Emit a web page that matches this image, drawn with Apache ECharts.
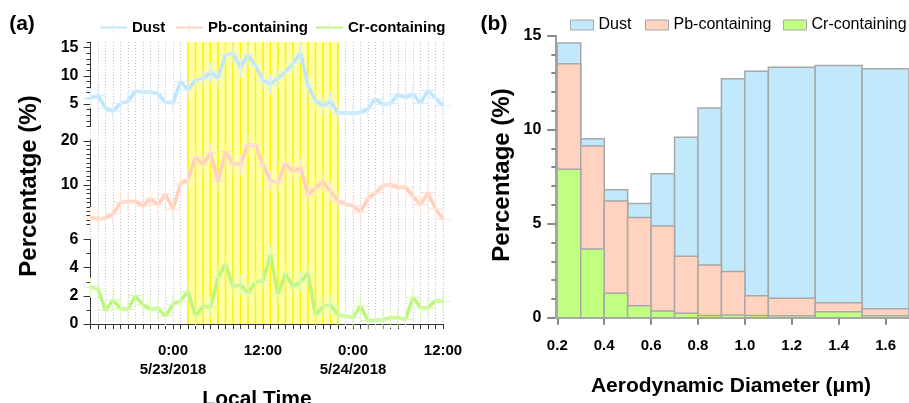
<!DOCTYPE html>
<html>
<head>
<meta charset="utf-8">
<script src="https://cdn.jsdelivr.net/npm/echarts@6/dist/echarts.min.js"></script>
<style>html,body{margin:0;padding:0;background:#fff;}#c{width:909px;height:403px;}</style>
</head>
<body>
<div id="c"></div>
<script>
// ---------- Panel (a): hourly time series, hours relative to 5/23/2018 0:00 ----------
const timeStartHour = -11;            // first sample: 5/22/2018 13:00
const timeEndHour = 36;               // 5/24/2018 12:00
const shadeStartHour = 2;             // highlighted period
const shadeEndHour = 22;
const xTickValues = [0, 12, 24, 36];
const xTickLabels = ['0:00\n5/23/2018', '12:00', '0:00\n5/24/2018', '12:00'];

const dustTS = [6.0,6.5,4.3,3.7,5.1,5.5,7.3,7.1,7.2,6.8,5.3,
  5.2,9.0,7.5,9.2,9.5,10.6,9.6,13.7,14.0,11.5,13.7,11.8,9.2,8.5,9.6,10.7,12.2,14.0,8.3,5.6,4.6,5.5,3.4,3.4,
  3.4,3.4,4.2,5.9,4.9,5.1,6.7,6.1,6.8,5.1,7.4,6.0,4.7];
const pbTS = [2.7,2.2,2.5,3.4,6.0,6.2,6.2,5.2,6.9,5.5,7.9,
  4.5,10.2,11.2,16.4,14.6,17.3,10.8,17.6,14.8,14.6,19.2,18.9,14.5,11.0,10.6,14.9,13.0,14.0,7.7,9.3,10.7,8.5,6.4,5.6,
  5.2,3.8,7.0,8.2,9.8,10.1,9.4,9.5,7.4,5.5,8.2,4.6,2.2];
const crTS = [2.6,2.5,0.95,1.7,1.1,1.05,2.0,1.35,1.05,1.1,0.56,
  1.4,1.65,2.3,0.58,1.25,1.2,3.3,4.25,2.65,2.8,2.2,2.95,3.1,4.9,2.1,3.6,2.65,3.0,3.6,0.6,1.25,1.35,0.64,0.55,
  0.47,1.28,0.24,0.26,0.3,0.45,0.44,0.33,1.9,1.15,1.15,1.65,1.6];

const dustRange = [1, 16], dustTicks = [5, 10, 15];
const pbRange = [1, 20.2], pbTicks = [10, 20];
const crRange = [0, 6], crTicks = [0, 2, 4, 6];

// ---------- Panel (b): size distribution ----------
const sizeEdges = [0.2,0.3,0.4,0.5,0.6,0.7,0.8,0.9,1.0,1.1,1.3,1.5,1.7];
const dustSize = [14.6,9.52,6.8,6.07,7.66,9.6,11.15,12.7,13.1,13.32,13.41,13.24];
const pbSize   = [13.5,9.13,6.2,5.33,4.88,3.27,2.8,2.46,1.17,1.03,0.8,0.48];
const crSize   = [7.9,3.65,1.3,0.64,0.36,0.23,0.12,0.15,0.12,0.1,0.32,0.1];

// ---------- build ----------
const FONT = "'Liberation Sans', Arial, Helvetica, sans-serif";
const hours = dustTS.map((_, i) => timeStartHour + i);
const ints = (a, b) => { const r = []; for (let v = Math.ceil(a); v <= b; v++) r.push(v); return r; };

const chart = echarts.init(document.getElementById('c'), null, {renderer: 'canvas', width: 909, height: 403});

const PX = {left: 90.5, width: 352.5};
const grids = [
  {left: PX.left, width: PX.width, top: 42, height: 282},      // overlay (shading + grid lines)
  {left: PX.left, width: PX.width, top: 42, height: 84.5},     // dust
  {left: PX.left, width: PX.width, top: 140, height: 84.5},    // pb
  {left: PX.left, width: PX.width, top: 239.5, height: 84.5},  // cr
  {left: 557.3, width: 361.5, top: 35.6, height: 282.1}        // size distribution
];

const axisCol = '#333';
function hiddenTimeX(gi) {
  return {type: 'value', gridIndex: gi, min: timeStartHour, max: timeEndHour, interval: 1, show: false};
}
function panelY(gi, range, major) {
  return [
    {type: 'value', gridIndex: gi, position: 'left', min: range[0], max: range[1],
     axisLine: {show: true, onZero: false, lineStyle: {color: axisCol, width: 1}},
     axisTick: {show: true, customValues: ints(range[0], range[1]), length: 4, lineStyle: {color: axisCol}},
     axisLabel: {show: true, customValues: major, margin: 12, fontSize: 16, fontWeight: 'bold', color: '#000', fontFamily: FONT},
     splitLine: {show: false}},
    {type: 'value', gridIndex: gi, position: 'left', min: range[0], max: range[1],
     axisLine: {show: false, onZero: false},
     axisTick: {show: true, customValues: major, length: 7, lineStyle: {color: axisCol}},
     axisLabel: {show: false}, splitLine: {show: false}}
  ];
}

const xAxes = [
  {type: 'value', gridIndex: 0, min: timeStartHour, max: timeEndHour, interval: 1,
   axisLine: {show: false, onZero: false}, axisTick: {show: false}, axisLabel: {show: false},
   splitLine: {show: true, lineStyle: {color: '#c4c4c4', type: [1, 2], width: 1}}},
  hiddenTimeX(1), hiddenTimeX(2),
  {type: 'value', gridIndex: 3, min: timeStartHour, max: timeEndHour, interval: 1,
   axisLine: {show: true, onZero: false, lineStyle: {color: axisCol, width: 1}},
   axisTick: {show: true, length: 5, lineStyle: {color: axisCol}},
   axisLabel: {show: true, customValues: xTickValues, margin: 17, fontSize: 15, lineHeight: 19,
     fontWeight: 'bold', color: '#000', fontFamily: FONT,
     formatter: v => { const i = xTickValues.indexOf(v); return i >= 0 ? xTickLabels[i] : ''; }},
   splitLine: {show: false}},
  {type: 'value', gridIndex: 4, min: 0.2, max: 1.7, interval: 0.2,
   axisLine: {show: true, onZero: false, lineStyle: {color: '#808080', width: 1.5}},
   axisTick: {show: true, length: 7, lineStyle: {color: '#606060', width: 1.5}},
   axisLabel: {margin: 21, fontSize: 15, fontWeight: 'bold', color: '#000', fontFamily: FONT,
     showMaxLabel: false, formatter: v => v.toFixed(1)},
   splitLine: {show: false}}
];

const yAxes = [
  {type: 'value', gridIndex: 0, min: 0, max: 1, show: false},
  ...panelY(1, dustRange, dustTicks),
  ...panelY(2, pbRange, pbTicks),
  ...panelY(3, crRange, crTicks),
  {type: 'value', gridIndex: 4, min: 0, max: 15, interval: 5, offset: 2,
   axisLine: {show: true, onZero: false, lineStyle: {color: '#808080', width: 1.5}},
   axisTick: {show: true, length: 8, lineStyle: {color: '#606060', width: 1.5}},
   minorTick: {show: true, splitNumber: 5, length: 4, lineStyle: {color: '#606060', width: 1.5}},
   axisLabel: {margin: 14, fontSize: 16, fontWeight: 'bold', color: '#000', fontFamily: FONT},
   splitLine: {show: false}, minorSplitLine: {show: false}}
];

const crossSym = 'path://M0,9.5H15V10.5H0Z M7,0H8V20H7Z';
function tsSeries(name, vals, xi, yi, lineCol, errCol) {
  return {
    type: 'line', name, xAxisIndex: xi, yAxisIndex: yi, z: 5,
    data: vals.map((v, i) => [hours[i], v]),
    symbol: crossSym, symbolSize: [15, 20], symbolKeepAspect: false,
    itemStyle: {color: errCol},
    lineStyle: {color: lineCol, width: 3.5},
    emphasis: {disabled: true}, silent: true
  };
}
function binSeries(name, vals, fill, z) {
  return {
    type: 'custom', name, xAxisIndex: 4, yAxisIndex: 7, z,
    data: vals.map((v, i) => [sizeEdges[i], sizeEdges[i + 1], v]),
    encode: {x: [0, 1], y: 2},
    itemStyle: {color: fill},
    silent: true,
    renderItem: (params, api) => {
      const p0 = api.coord([api.value(0), 0]);
      const p1 = api.coord([api.value(1), api.value(2)]);
      return {type: 'rect',
        shape: {x: p0[0], y: p1[1], width: p1[0] - p0[0], height: p0[1] - p1[1]},
        style: {fill: fill, stroke: '#a8a8a8', lineWidth: 1.5}};
    }
  };
}

const shade = {
  type: 'custom', name: 'shade', xAxisIndex: 0, yAxisIndex: 0, z: 1, silent: true,
  data: [[shadeStartHour, shadeEndHour]],
  encode: {x: [0, 1]},
  renderItem: (params, api) => {
    const s = api.value(0), e = api.value(1);
    const a = api.coord([s, 1]), b = api.coord([e, 0]);
    const children = [{type: 'rect', shape: {x: a[0], y: a[1], width: b[0] - a[0], height: b[1] - a[1]},
      style: {fill: '#FFFF90', opacity: 0.8}}];
    for (let h = s; h <= e; h++) {
      const p = api.coord([h, 0]);
      children.push({type: 'line', shape: {x1: p[0], y1: a[1], x2: p[0], y2: b[1]},
        style: {stroke: '#FFF000', lineWidth: 1.5}});
    }
    return {type: 'group', children};
  }
};

const COL = {
  dust: '#BEE5F9', dustErr: '#D6EEFB', pb: '#FFD1BD', pbErr: '#FFE0D2', cr: '#BEF57D', crErr: '#D6FAAE',
  dustBar: '#C2E8FB', pbBar: '#FFD3BF', crBar: '#C0FF80'
};

function lineLegend(name, left) {
  return {data: [name], left, top: 15, orient: 'horizontal', itemWidth: 27, itemHeight: 14, itemGap: 0,
    selectedMode: false, textStyle: {fontSize: 15, fontWeight: 'bold', color: '#000', fontFamily: FONT}};
}
function barLegend(name, fill, left) {
  return {data: [{name, icon: 'rect', itemStyle: {color: fill, borderColor: '#a8a8a8', borderWidth: 1}}],
    left, top: 12, itemWidth: 23, itemHeight: 10, itemGap: 0, selectedMode: false,
    formatter: n => n.trim(),
    textStyle: {fontSize: 16, color: '#000', fontFamily: FONT}};
}

const titleStyle = (size) => ({fontSize: size, fontWeight: 'bold', fill: '#000', fontFamily: FONT});

chart.setOption({
  animation: false,
  backgroundColor: '#fff',
  grid: grids,
  xAxis: xAxes,
  yAxis: yAxes,
  legend: [
    lineLegend('Dust', 94), lineLegend('Pb-containing', 170), lineLegend('Cr-containing', 310),
    barLegend('Dust ', COL.dustBar, 565), barLegend('Pb-containing ', COL.pbBar, 640), barLegend('Cr-containing ', COL.crBar, 778)
  ],
  graphic: [
    {type: 'text', x: 22, y: 24, style: Object.assign({text: '(a)', textAlign: 'center', textVerticalAlign: 'middle'}, titleStyle(21))},
    {type: 'text', x: 494, y: 24, style: Object.assign({text: '(b)', textAlign: 'center', textVerticalAlign: 'middle'}, titleStyle(21))},
    {type: 'text', x: 29, y: 186, rotation: Math.PI / 2, style: Object.assign({text: 'Percentatge (%)', textAlign: 'center', textVerticalAlign: 'middle'}, titleStyle(24))},
    {type: 'text', x: 502, y: 175, rotation: Math.PI / 2, style: Object.assign({text: 'Percentage (%)', textAlign: 'center', textVerticalAlign: 'middle'}, titleStyle(24))},
    {type: 'text', x: 257, y: 399, style: Object.assign({text: 'Local Time', textAlign: 'center', textVerticalAlign: 'middle'}, titleStyle(21))},
    {type: 'text', x: 731, y: 386, style: Object.assign({text: 'Aerodynamic Diameter (\u03bcm)', textAlign: 'center', textVerticalAlign: 'middle'}, titleStyle(21))}
  ],
  series: [
    shade,
    tsSeries('Dust', dustTS, 1, 1, COL.dust, COL.dustErr),
    tsSeries('Pb-containing', pbTS, 2, 3, COL.pb, COL.pbErr),
    tsSeries('Cr-containing', crTS, 3, 5, COL.cr, COL.crErr),
    binSeries('Dust ', dustSize, COL.dustBar, 2),
    binSeries('Pb-containing ', pbSize, COL.pbBar, 3),
    binSeries('Cr-containing ', crSize, COL.crBar, 4)
  ]
});
</script>
</body>
</html>
